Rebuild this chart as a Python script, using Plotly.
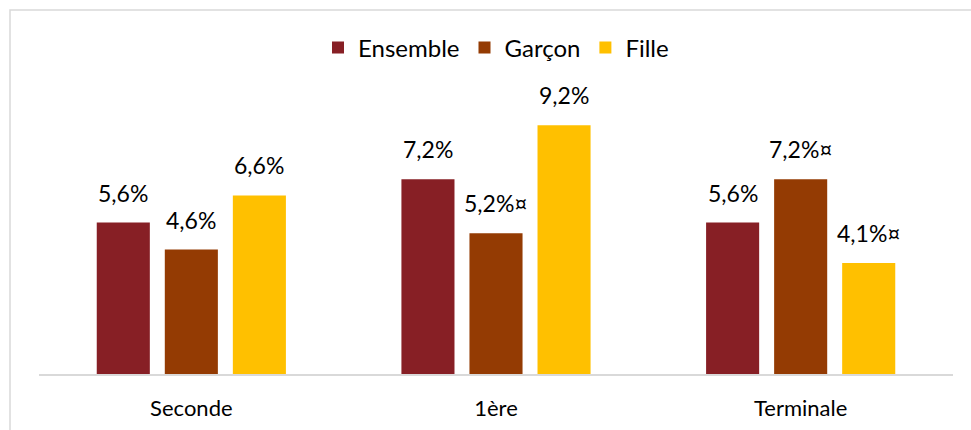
import plotly.graph_objects as go

categories = ["Seconde", "1ère", "Terminale"]
series_names = ["Ensemble", "Garçon", "Fille"]
ensemble = [5.6, 7.2, 5.6]
garcon = [4.6, 5.2, 7.2]
fille = [6.6, 9.2, 4.1]
ensemble_labels = ["5,6%", "7,2%", "5,6%"]
garcon_labels = ["4,6%", "5,2%¤", "7,2%¤"]
fille_labels = ["6,6%", "9,2%", "4,1%¤"]
colors = ["#871F25", "#943B03", "#FFC000"]

W, H = 971, 430
ml, mr, mt, mb = 39, 18, 80, 56
pw, ph = W - ml - mr, H - mt - mb
FONT = "Lato"

values = [ensemble, garcon, fille]
labels = [ensemble_labels, garcon_labels, fille_labels]

fig = go.Figure()
for name, vals, col in zip(series_names, values, colors):
    fig.add_trace(go.Bar(name=name, x=categories, y=vals, marker=dict(color=col, line=dict(width=0))))

# data labels above bars
step = 0.2232
for k, (vals, labs) in enumerate(zip(values, labels)):
    for i, (v, t) in enumerate(zip(vals, labs)):
        fig.add_annotation(x=i + (k - 1) * step, y=v, text=t, showarrow=False,
                           xref="x", yref="y", yanchor="bottom", yshift=14,
                           font=dict(family=FONT, size=23, color="#000000"))

# outer border (top + left visible)
x0 = (10 - ml) / pw
x1 = (W + 20 - ml) / pw
y1 = 1 + (mt - 10) / ph
y0 = -(H + 20 - (mt + ph)) / ph
fig.add_shape(type="rect", xref="paper", yref="paper", x0=x0, x1=x1, y0=y0, y1=y1,
              line=dict(color="#D9D9D9", width=1.5), fillcolor="rgba(0,0,0,0)", layer="below")

fig.update_layout(
    width=W, height=H,
    margin=dict(l=ml, r=mr, t=mt, b=mb, autoexpand=False),
    paper_bgcolor="white", plot_bgcolor="white",
    barmode="group", bargap=0.33, bargroupgap=0.22,
    font=dict(family=FONT, size=20, color="#000000"),
    legend=dict(orientation="h", x=0.5, xanchor="center", y=1 + (mt - 48) / ph, yanchor="middle",
                font=dict(family=FONT, size=24), itemwidth=30, traceorder="normal"),
    xaxis=dict(showline=True, linecolor="#D9D9D9", linewidth=1.5, showgrid=False, automargin=False,
               ticks="", tickfont=dict(family=FONT, size=22), ticklabelstandoff=14),
    yaxis=dict(range=[0, ph / 27.05], visible=False, showgrid=False, zeroline=False, automargin=False),
    showlegend=True,
)

fig.write_html("out.html")
